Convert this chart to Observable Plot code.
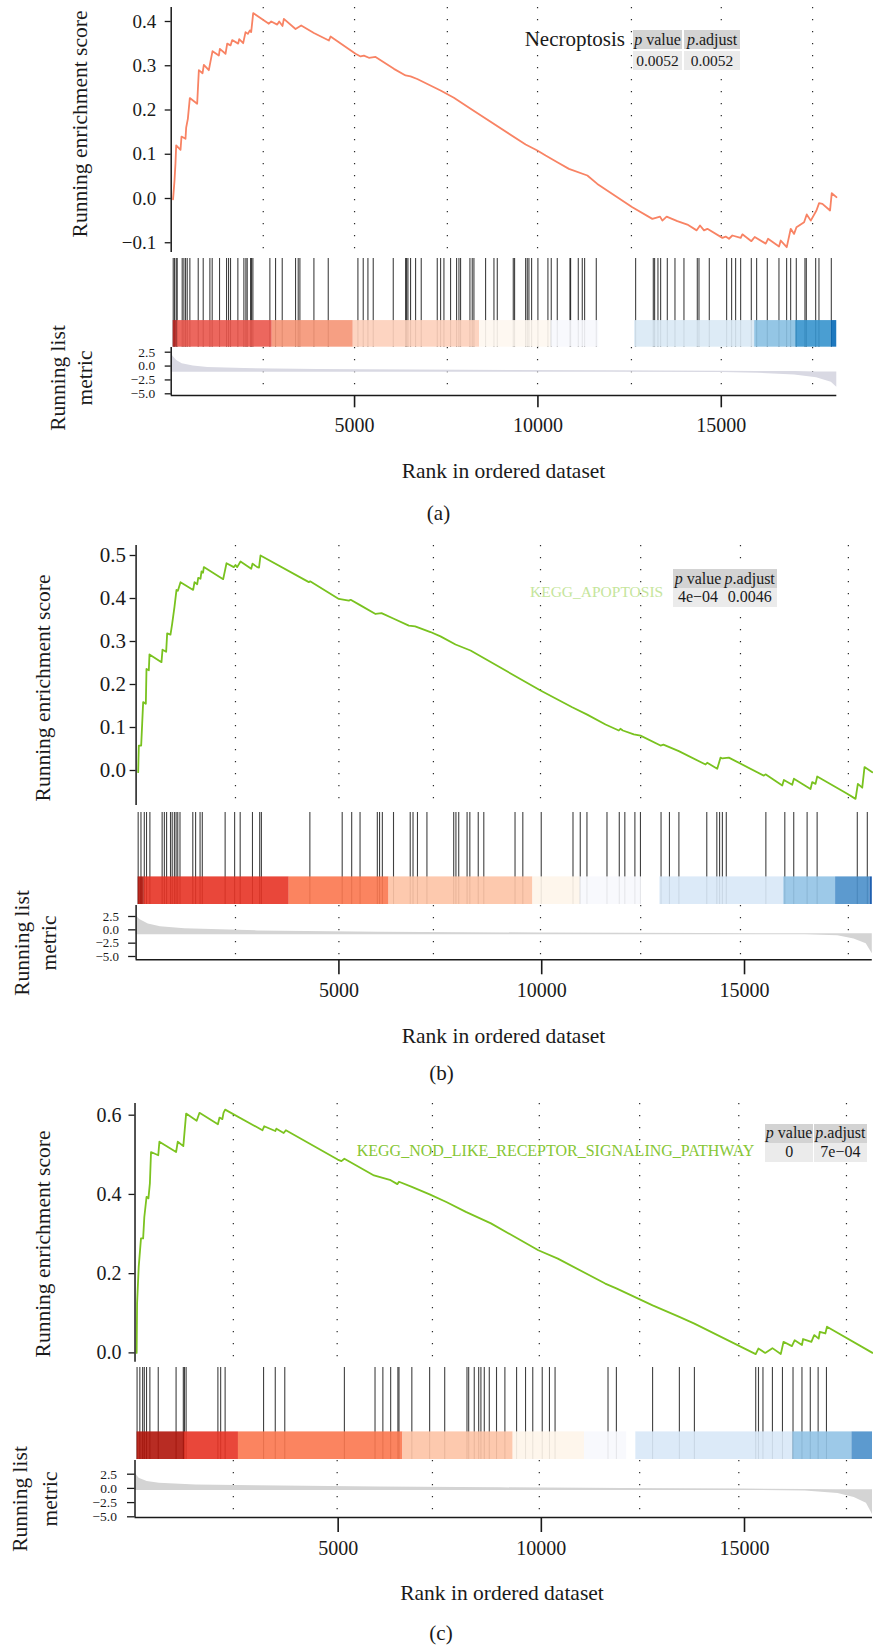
<!DOCTYPE html>
<html><head><meta charset="utf-8">
<script src="https://cdn.jsdelivr.net/npm/d3@7"></script>
<script src="https://cdn.jsdelivr.net/npm/@observablehq/plot@0.6"></script>
<style>
body{margin:0;background:#fff;}
#root{position:relative;width:873px;height:1647px;overflow:hidden;font-family:"Liberation Serif","DejaVu Serif",serif;color:#1a1a1a;background:#fff;}
</style></head><body><div id="root"></div>
<script>
// ---------------- DATA ----------------
const N = 18150;
const xTicks = [5000, 10000, 15000];
const metricTicks = [2.5, 0, -2.5, -5];
const bandLevels = [1,2,3,4,5,6,7,8,9,10];

// Panel (a) Necroptosis
const aTerm = "Necroptosis";
const aPvalue = "0.0052", aPadjust = "0.0052";
const aEsTicks = [-0.1, 0, 0.1, 0.2, 0.3, 0.4];
const aEsRank = [50,90,117,136,254,281,390,408,454,508,708,754,854,890,1026,1072,1127,1299,1327,1481,1527,1618,1663,1827,1854,1963,2027,2091,2145,2181,2236,2663,2727,2891,2945,3036,3072,3391,3545,3891,4300,4345,5027,5164,5255,5391,5573,6073,6391,6527,6709,7345,7709,8164,9665,9984,10210,10529,10846,11348,11620,12575,13120,13330,13393,13510,13802,14075,14329,14420,14529,14620,15030,15120,15210,15302,15530,15575,15821,15912,16212,16275,16575,16621,16785,16894,16985,17050,17258,17330,17440,17595,17667,17758,17966,18012,18140];
const aEsValue = [-0.002,0.04,0.08,0.12,0.11,0.14,0.135,0.16,0.18,0.227,0.214,0.29,0.283,0.302,0.29,0.31,0.333,0.323,0.338,0.327,0.35,0.346,0.358,0.35,0.36,0.351,0.376,0.372,0.38,0.376,0.419,0.395,0.4,0.393,0.4,0.39,0.406,0.383,0.391,0.374,0.357,0.366,0.327,0.321,0.323,0.318,0.32,0.293,0.278,0.276,0.27,0.244,0.2275,0.2027,0.122,0.1085,0.097,0.082,0.067,0.052,0.033,-0.0196,-0.046,-0.041,-0.050,-0.041,-0.051,-0.059,-0.072,-0.061,-0.072,-0.0685,-0.089,-0.086,-0.091,-0.0836,-0.089,-0.081,-0.0964,-0.087,-0.102,-0.091,-0.1085,-0.095,-0.11,-0.0685,-0.08,-0.065,-0.0535,-0.036,-0.05,-0.027,-0.0105,-0.012,-0.027,0.012,0.003];
const aHits = [54,90,136,163,299,345,390,436,508,736,872,1054,1117,1317,1508,1563,1617,1817,1981,2036,2072,2163,2190,2227,2690,2845,3027,3390,3463,3509,3891,4282,5091,5236,5364,5509,6055,6391,6418,6455,6527,6664,6818,7255,7346,7437,7618,7782,7846,7891,8146,8209,8255,8573,8801,8892,9328,9364,9665,9710,9755,9828,10000,10273,10364,10528,10874,10892,11101,11210,11274,11592,12665,13147,13183,13274,13347,13529,13738,13983,14347,14393,14674,15147,15283,15392,15529,15820,15965,16256,16574,16783,16893,17047,17283,17320,17575,17665,18002];
const aBandStart = [54,163,2755,4964,8410,10360,12637,15912,17030,18000];
const aBandEnd   = [163,2755,4964,8410,10360,11660,15912,17030,18000,18150];
const aBandLevel = [10,9,8,7,6,5,4,3,2,1];
const aMetricRank  = [0,60,150,300,600,1000,2000,4000,8000,12000,15000,16000,17000,17600,18000,18150];
const aMetricUpper = [2.2,1.7,1.0,0.4,0.0,-0.25,-0.45,-0.6,-0.75,-0.85,-0.95,-1.0,-1.0,-1.05,-1.05,-1.05];
const aMetricLower = [-1.1,-1.1,-1.1,-1.1,-1.1,-1.1,-1.1,-1.1,-1.1,-1.1,-1.15,-1.3,-1.6,-2.1,-2.9,-3.8];
const aGrid = [2510,5000,7530,9990,12550,15000,17490];

// Panel (b) KEGG_APOPTOSIS
const bTerm = "KEGG_APOPTOSIS";
const bPvalue = "4e\u221204", bPadjust = "0.0046";
const bEsTicks = [0, 0.1, 0.2, 0.3, 0.4, 0.5];
const bEsRank = [51,67,125,150,174,240,256,314,330,626,651,741,766,848,889,947,996,1030,1095,1407,1440,1506,1531,1588,1613,1650,1670,2147,2229,2409,2450,2492,2574,2838,2870,2986,3030,3067,4259,4290,4998,5245,5290,5533,5903,6050,6354,6724,6880,7258,7505,7875,8245,9971,10752,11122,11573,11901,11940,12000,12271,12436,12929,13000,13380,14039,14080,14327,14409,14450,14613,15476,15517,15930,15970,16176,16217,16627,16668,16750,16792,17532,17737,17794,17902,17958,18150];
const bEsValue = [-0.004,0.058,0.058,0.109,0.159,0.155,0.236,0.233,0.27,0.252,0.281,0.276,0.319,0.316,0.341,0.381,0.42,0.418,0.438,0.42,0.438,0.433,0.448,0.446,0.463,0.46,0.473,0.445,0.482,0.473,0.478,0.473,0.486,0.469,0.481,0.473,0.472,0.5,0.438,0.44,0.399,0.395,0.397,0.384,0.364,0.366,0.353,0.337,0.335,0.322,0.312,0.293,0.279,0.186,0.147,0.130,0.107,0.093,0.097,0.093,0.084,0.081,0.058,0.06,0.045,0.014,0.018,0.004,0.030,0.028,0.030,-0.012,-0.009,-0.035,-0.022,-0.033,-0.019,-0.043,-0.027,-0.031,-0.014,-0.054,-0.066,-0.031,-0.040,0.008,-0.004];
const bHits = [51,120,202,257,340,642,697,752,848,890,944,986,1027,1082,1398,1467,1577,1632,2195,2429,2566,2869,3047,3089,4284,5081,5315,5521,5947,6002,6071,6346,6758,6827,6937,7170,7830,7885,7954,8160,8228,8435,8572,9342,9534,9988,10771,10950,11115,11609,11912,12049,12297,12434,12942,13149,13382,14069,14317,14385,14454,14550,15526,15993,16213,16543,16790,17780,18027];
const bBandStart = [51,202,3775,6235,9781,10949,12914,15967,17245,18097];
const bBandEnd   = [202,3775,6235,9781,10949,12461,15967,17245,18097,18150];
const bBandLevel = [10,9,8,7,6,5,4,3,2,1];
const bMetricRank  = [0,100,300,600,1200,3000,6000,10000,14000,16500,17300,17700,18000,18150];
const bMetricUpper = [2.6,1.9,1.1,0.6,0.2,-0.2,-0.45,-0.6,-0.7,-0.75,-0.75,-0.75,-0.75,-0.75];
const bMetricLower = [-0.9,-0.9,-0.9,-0.9,-0.9,-0.9,-0.9,-0.9,-0.9,-0.9,-1.1,-1.7,-2.6,-4.5];
const bGrid = [2450,5000,7330,9970,12440,14900,17560];

// Panel (c) KEGG_NOD_LIKE_RECEPTOR_SIGNALING_PATHWAY
const cTerm = "KEGG_NOD_LIKE_RECEPTOR_SIGNALING_PATHWAY";
const cPvalue = "0", cPadjust = "7e\u221204";
const cEsTicks = [0, 0.2, 0.4, 0.6];
const cEsRank = [40,51,91,147,200,229,284,330,366,394,572,600,1011,1052,1189,1258,1518,1587,2040,2080,2150,2178,2218,3137,3179,3452,3480,3659,3713,4988,5080,5153,5881,6292,6456,6497,6813,7251,7662,8142,8760,9926,10406,11572,11846,12739,13397,13767,15276,15342,15510,15687,15893,15961,16167,16236,16415,16442,16646,16715,16826,16853,16990,17030,18150];
const cEsValue = [0.0,0.125,0.217,0.289,0.289,0.343,0.394,0.39,0.428,0.507,0.499,0.533,0.507,0.533,0.522,0.604,0.586,0.606,0.577,0.594,0.59,0.606,0.614,0.562,0.572,0.560,0.566,0.555,0.562,0.488,0.484,0.49,0.448,0.436,0.426,0.432,0.419,0.4,0.381,0.356,0.327,0.259,0.238,0.175,0.163,0.12,0.091,0.074,-0.003,0.011,0.0,0.012,-0.003,0.028,0.017,0.032,0.02,0.035,0.028,0.045,0.036,0.053,0.049,0.066,0.0];
const cHits = [51,119,188,229,284,366,572,1011,1189,1217,1258,2040,2108,2218,3164,3452,3686,5153,5907,6100,6292,6470,6497,6813,7251,7622,8170,8212,8349,8458,8513,8596,8719,8897,9103,9391,9611,9789,10022,10200,10338,11641,11847,12738,13397,13767,15276,15344,15454,15687,15934,16194,16414,16619,16812,17017];
const cBandStart = [51,1218,2546,6593,9306,11063,12325,16190,17643];
const cBandEnd   = [1218,2546,6593,9306,11063,12100,16190,17643,18150];
const cBandLevel = [10,9,8,7,6,5,4,3,2];
const cMetricRank  = [0,100,300,600,1500,3000,6000,9000,12000,15000,16500,17300,17700,18000,18150];
const cMetricUpper = [2.7,1.8,1.2,0.9,0.6,0.45,0.25,0.1,0.0,-0.1,-0.2,-0.25,-0.25,-0.25,-0.25];
const cMetricLower = [-0.35,-0.35,-0.35,-0.35,-0.35,-0.35,-0.35,-0.35,-0.35,-0.35,-0.45,-0.9,-1.6,-2.6,-4.6];
const cGrid = [2420,4975,7320,9950,12420,14860,17510];

// ---------------- RENDER ----------------
const W = 873;
const root = document.getElementById("root");
const fmt1 = d3.format(".1f");
const baseStyle = {background: "transparent", overflow: "visible", fontFamily: "'Liberation Serif', serif", color: "#1a1a1a"};
const dotted = {stroke: "#2a2a2a", strokeWidth: 1.2, strokeDasharray: "1.2,10.8"};

function dom(topPx, botPx, a) {
  const k = (a[3] - a[1]) / (a[0] - a[2]);
  return [a[2] - (botPx - a[3]) / k, a[0] + (a[1] - topPx) / k];
}
function place(svg, top) {
  svg.style.position = "absolute"; svg.style.left = "0px"; svg.style.top = top + "px";
  root.appendChild(svg);
}
function addDiv(html, style) {
  const el = document.createElement("div");
  el.innerHTML = html;
  Object.assign(el.style, {position: "absolute", whiteSpace: "nowrap", lineHeight: "1"}, style);
  root.appendChild(el);
  return el;
}
function centerText(html, cx, cy, size, extra) {
  return addDiv(html, Object.assign({left: cx + "px", top: cy + "px", fontSize: size + "px", transform: "translate(-50%,-50%)"}, extra || {}));
}
function rotText(html, cx, cy, size, lh) {
  return addDiv(html, {left: cx + "px", top: cy + "px", fontSize: size + "px", lineHeight: lh + "px", textAlign: "center", transform: "translate(-50%,-50%) rotate(-90deg)"});
}
function cell(html, x, y, w, h, bg, size) {
  return addDiv("<span>" + html + "</span>", {left: x + "px", top: y + "px", width: w + "px", height: h + "px", background: bg, fontSize: size + "px",
    display: "flex", alignItems: "center", justifyContent: "center"});
}

function panel(P) {
  const mL = P.x0, mR = W - P.x1;
  // Running enrichment score
  const padT = 16, padB = 4;
  const es = P.esRank.map((r, i) => ({rank: r, value: P.esValue[i]}));
  const esSvg = Plot.plot({
    width: W, height: P.esBottom - P.esTop + padT + padB,
    marginLeft: mL, marginRight: mR, marginTop: padT, marginBottom: padB,
    x: {domain: [0, N], axis: null},
    y: {domain: dom(P.esTop, P.esBottom, P.esAnchor)},
    style: baseStyle,
    marks: [
      Plot.ruleX(P.grid, dotted),
      Plot.line(es, {x: "rank", y: "value", stroke: P.color, strokeWidth: 1.8}),
      Plot.ruleX([0], {stroke: "#1a1a1a", strokeWidth: 1.5}),
      Plot.axisY({ticks: P.esTicks, tickFormat: fmt1, tickSize: 6, tickPadding: P.esPad, fontSize: P.esFont, strokeWidth: 1.3, label: null})
    ]
  });
  place(esSvg, P.esTop - padT);

  // hits + colour band
  const band = P.bandStart.map((s, i) => ({start: s, end: P.bandEnd[i], level: P.bandLevel[i]}));
  const hitSvg = Plot.plot({
    width: W, height: P.bandBottom - P.hitsTop,
    marginLeft: mL, marginRight: mR, marginTop: 0, marginBottom: 0,
    x: {domain: [0, N], axis: null},
    y: {domain: [0, 1], axis: null},
    color: {type: "ordinal", domain: bandLevels, range: P.palette},
    style: baseStyle,
    marks: [
      Plot.ruleX(P.hits, {y1: 0, y2: 1, stroke: "#000", strokeOpacity: 0.75, strokeWidth: 1.1}),
      Plot.rect(band, {x1: "start", x2: "end", y1: 0, y2: 0.3, fill: "level", fillOpacity: 0.9})
    ]
  });
  place(hitSvg, P.hitsTop);

  // ranked list metric
  const padM = 8, botM = 50;
  const mDom = dom(P.mTop, P.mBottom, P.mAnchor);
  const metric = P.mRank.map((r, i) => ({rank: r, upper: P.mUpper[i], lower: P.mLower[i]}));
  const mSvg = Plot.plot({
    width: W, height: P.mBottom - P.mTop + padM + botM,
    marginLeft: mL, marginRight: mR, marginTop: padM, marginBottom: botM,
    x: {domain: [0, N]},
    y: {domain: mDom},
    style: baseStyle,
    marks: [
      Plot.ruleX(P.grid, dotted),
      Plot.area(metric, {x1: "rank", y1: "upper", y2: "lower", fill: P.gray}),
      Plot.ruleX([0], {stroke: "#1a1a1a", strokeWidth: 1.5}),
      Plot.ruleY([mDom[0]], {stroke: "#1a1a1a", strokeWidth: 1.6}),
      Plot.axisY({ticks: metricTicks, tickFormat: fmt1, tickSize: P.mTick, tickPadding: P.mPad, fontSize: P.mFont, strokeWidth: 1.3, label: null}),
      Plot.axisX({ticks: xTicks, tickFormat: d => String(d), tickSize: P.xTick, tickPadding: P.xPad, fontSize: 20, strokeWidth: 1.6, label: null})
    ]
  });
  place(mSvg, P.mTop - padM);

  // texts
  rotText("Running enrichment score", P.esLabel[0], P.esLabel[1], 21.5, 22);
  rotText("Running list<br>metric", P.mLabel[0], P.mLabel[1], 21.5, P.mLabel[2]);
  centerText("Rank in ordered dataset", P.xLabel[0], P.xLabel[1], 21.5);
  centerText(P.letter, P.letterPos[0], P.letterPos[1], 21);
  // table
  const T = P.table;
  addDiv(P.term, Object.assign({fontSize: T.termSize + "px", color: T.termColor}, T.termStyle));
  const heads = ["<i>p</i>&nbsp;value", "<i>p</i>.adjust"];
  const vals = [P.pv, P.pa];
  T.cols.forEach((c, i) => {
    cell(heads[i], c[0], T.hy, c[1], T.hh, "#d3d3d3", T.hSize);
    cell(vals[i], c[0], T.vy, c[1], T.vh, "#ebebeb", T.vSize);
  });
}

const palA = ["#0569B7","#3693CD","#88C0E2","#D9E9F5","#F7F8FD","#FEF7EF","#FDCFBA","#F59576","#EA574C","#B72621"];
const palBC = ["#074EA7","#4A8FCA","#92C3E5","#D8E8F7","#F7F8FD","#FEF5EA","#FDC3A5","#FB774F","#E73325","#B0150B"];

panel({
  x0: 170.7, x1: 836.3, color: "#F88364", gray: "#D9D9E3", palette: palA, grid: aGrid,
  esRank: aEsRank, esValue: aEsValue, esTicks: aEsTicks, esTop: 7, esBottom: 252, esAnchor: [0.4, 21, 0, 198], esPad: 9, esFont: 19,
  hits: aHits, bandStart: aBandStart, bandEnd: aBandEnd, bandLevel: aBandLevel, hitsTop: 258, bandBottom: 346.7,
  mRank: aMetricRank, mUpper: aMetricUpper, mLower: aMetricLower, mTop: 347, mBottom: 395, mAnchor: [2.5, 351.7, -5, 393.3],
  mTick: 6, mPad: 10, mFont: 13.5, xTick: 12.3, xPad: 10,
  esLabel: [80, 123.5], mLabel: [70.8, 378, 26.5], xLabel: [503.5, 471.7], letter: "(a)", letterPos: [438.5, 513],
  term: aTerm, pv: aPvalue, pa: aPadjust,
  table: {termSize: 21, termColor: "#1a1a1a", termStyle: {right: (W - 625) + "px", top: "29px"},
    cols: [[633.3, 48.4], [684, 56]], hy: 30, hh: 19.3, vy: 50.7, vh: 19.3, hSize: 16, vSize: 15.5}
});
panel({
  x0: 135.6, x1: 871.8, color: "#79C21F", gray: "#D4D4D4", palette: palBC, grid: bGrid,
  esRank: bEsRank, esValue: bEsValue, esTicks: bEsTicks, esTop: 545, esBottom: 805, esAnchor: [0.5, 555, 0, 770], esPad: 4, esFont: 21,
  hits: bHits, bandStart: bBandStart, bandEnd: bBandEnd, bandLevel: bBandLevel, hitsTop: 812.3, bandBottom: 904.3,
  mRank: bMetricRank, mUpper: bMetricUpper, mLower: bMetricLower, mTop: 905, mBottom: 959.3, mAnchor: [2.5, 916, -5, 956],
  mTick: 7.5, mPad: 9.5, mFont: 13, xTick: 15, xPad: 7.5,
  esLabel: [43.3, 688], mLabel: [36, 942.5, 27.3], xLabel: [503.5, 1036.7], letter: "(b)", letterPos: [441.5, 1073],
  term: bTerm, pv: bPvalue, pa: bPadjust,
  table: {termSize: 15.5, termColor: "#C5E59B", termStyle: {left: "530px", top: "583.5px"},
    cols: [[673.3, 49.4], [722.7, 54]], hy: 569.3, hh: 19, vy: 588.3, vh: 18.4, hSize: 16, vSize: 16}
});
panel({
  x0: 134.5, x1: 872, color: "#7CC320", gray: "#D4D4D4", palette: palBC, grid: cGrid,
  esRank: cEsRank, esValue: cEsValue, esTicks: cEsTicks, esTop: 1103.3, esBottom: 1362, esAnchor: [0.6, 1115, 0, 1352.7], esPad: 7.5, esFont: 20,
  hits: cHits, bandStart: cBandStart, bandEnd: cBandEnd, bandLevel: cBandLevel, hitsTop: 1367, bandBottom: 1459,
  mRank: cMetricRank, mUpper: cMetricUpper, mLower: cMetricLower, mTop: 1460, mBottom: 1517, mAnchor: [2.5, 1473.7, -5, 1516.3],
  mTick: 7.5, mPad: 10.5, mFont: 13.5, xTick: 15, xPad: 8.5,
  esLabel: [43.2, 1243.5], mLabel: [34.8, 1499, 29.5], xLabel: [502, 1593.7], letter: "(c)", letterPos: [441, 1633],
  term: cTerm, pv: cPvalue, pa: cPadjust,
  table: {termSize: 16, termColor: "#86C634", termStyle: {left: "356.7px", top: "1143px"},
    cols: [[764.8, 48.7], [813.5, 53.8]], hy: 1124.3, hh: 18.4, vy: 1142.7, vh: 19, hSize: 16, vSize: 16}
});
</script>
</body></html>
